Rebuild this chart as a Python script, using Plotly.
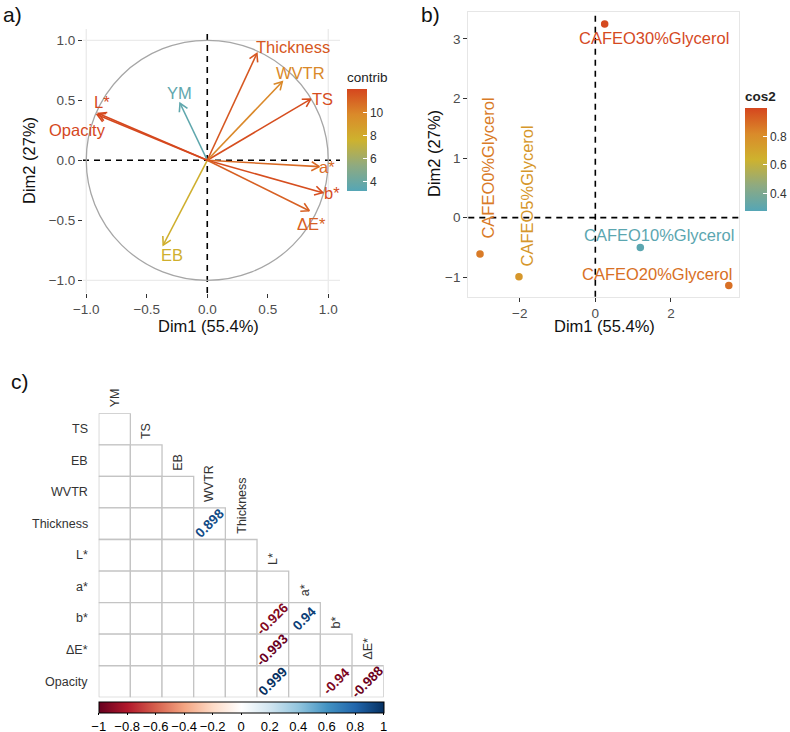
import plotly.graph_objects as go
import numpy as np

# ---------------- DATA ----------------
# Panel a: variables PCA (correlation circle)
var_names = ["YM", "TS", "EB", "WVTR", "Thickness", "L*", "a*", "b*", "ΔE*", "Opacity"]
var_dim1 = [-0.225, 0.855, -0.364, 0.620, 0.410, -0.900, 0.926, 0.954, 0.843, -0.910]
var_dim2 = [0.475, 0.510, -0.706, 0.655, 0.890, 0.390, -0.053, -0.270, -0.420, 0.380]
var_contrib = [3.6, 11.8, 7.8, 9.9, 11.5, 12.0, 10.9, 11.8, 11.2, 12.0]

# Panel b: individuals
ind_names = ["CAFEO0%Glycerol", "CAFEO5%Glycerol", "CAFEO10%Glycerol",
             "CAFEO20%Glycerol", "CAFEO30%Glycerol"]
ind_dim1 = [-3.05, -2.02, 1.19, 3.53, 0.247]
ind_dim2 = [-0.61, -0.99, -0.50, -1.14, 3.25]
ind_cos2 = [0.86, 0.76, 0.30, 0.89, 0.99]

# Panel c: correlation matrix (lower triangle, only significant values shown)
corr_rows = ["TS", "EB", "WVTR", "Thickness", "L*", "a*", "b*", "ΔE*", "Opacity"]
corr_cols = ["YM", "TS", "EB", "WVTR", "Thickness", "L*", "a*", "b*", "ΔE*"]
sig_row = ["Thickness", "b*", "b*", "ΔE*", "Opacity", "Opacity", "Opacity"]
sig_col = ["WVTR", "L*", "a*", "L*", "L*", "b*", "ΔE*"]
sig_r = [0.898, -0.926, 0.94, -0.993, 0.999, -0.94, -0.988]

dim1_title = "Dim1 (55.4%)"
dim2_title = "Dim2 (27%)"
corr_ticks = [-1, -0.8, -0.6, -0.4, -0.2, 0, 0.2, 0.4, 0.6, 0.8, 1]

# ---------------- STYLE ----------------
W, H = 790, 732
FONT = "Liberation Sans, Arial, sans-serif"
grad_scale = [[0.0, "#55A6B6"], [0.25, "#8FAA80"], [0.5, "#CEB22E"],
              [0.75, "#DA8A2A"], [1.0, "#D5461E"]]
rdbu_scale = [[0.0, "#67001F"], [0.1, "#B2182B"], [0.2, "#D6604D"], [0.3, "#F4A582"],
              [0.4, "#FDDBC7"], [0.5, "#FFFFFF"], [0.6, "#D1E5F0"], [0.7, "#92C5DE"],
              [0.8, "#4393C3"], [0.9, "#2166AC"], [1.0, "#053061"]]


def hex2rgb(h):
    h = h.lstrip("#")
    return [int(h[i:i + 2], 16) for i in (0, 2, 4)]


def scale_color(scale, v, vmin, vmax):
    t = min(max((v - vmin) / (vmax - vmin), 0), 1)
    for (p0, c0), (p1, c1) in zip(scale[:-1], scale[1:]):
        if p0 <= t <= p1:
            f = 0 if p1 == p0 else (t - p0) / (p1 - p0)
            a, b = hex2rgb(c0), hex2rgb(c1)
            r = [round(a[i] + (b[i] - a[i]) * f) for i in range(3)]
            return "rgb(%d,%d,%d)" % tuple(r)
    return scale[-1][1]


def px2paper_x(px):
    return px / W


def px2paper_y(py):
    return 1 - py / H


# panel geometry (pixels)
A_L, A_R, A_T, A_B = 83, 340, 29, 293
A_XR = [-1.027, 1.097]
A_YR = [-1.106, 1.094]
B_L, B_R, B_T, B_B = 468.3, 739, 11.7, 296.7
B_XR = [-3.36, 3.80]
B_YR = [-1.326, 3.456]
C_L, C_R, C_T, C_B = 98.7, 383.7, 413.3, 697.3

contrib_min, contrib_max = 3.23, 12.06
cos2_min, cos2_max = 0.28, 1.0

fig = go.Figure()

# ---------------- PANEL A ----------------
kx = (A_R - A_L) / (A_XR[1] - A_XR[0])
ky = (A_B - A_T) / (A_YR[1] - A_YR[0])
head_len = 9.0
label_off = {  # label offsets from arrow tip (data units), anchor
    "YM": (-0.003, 0.083, "center"), "TS": (0.097, 0.0, "center"),
    "EB": (0.076, -0.083, "center"), "WVTR": (0.153, 0.075, "center"),
    "Thickness": (0.30, 0.057, "center"), "L*": (0.034, 0.098, "center"),
    "a*": (0.061, 0.0, "center"), "b*": (0.074, -0.005, "center"),
    "ΔE*": (0.02, -0.11, "center"), "Opacity": (0.092, -0.127, "right"),
}
for name, x, y, c in zip(var_names, var_dim1, var_dim2, var_contrib):
    col = scale_color(grad_scale, c, contrib_min, contrib_max)
    dx, dy = x * kx, y * ky
    n = np.hypot(dx, dy)
    ux, uy = -dx / n, -dy / n
    wings = []
    for ang in (np.pi / 6, -np.pi / 6):
        rx = ux * np.cos(ang) - uy * np.sin(ang)
        ry = ux * np.sin(ang) + uy * np.cos(ang)
        wings.append((x + rx * head_len / kx, y + ry * head_len / ky))
    fig.add_trace(go.Scatter(
        x=[0, x, None, wings[0][0], x, wings[1][0]],
        y=[0, y, None, wings[0][1], y, wings[1][1]],
        mode="lines", line=dict(color=col, width=1.6),
        hoverinfo="skip", xaxis="x", yaxis="y"))
    ox, oy, anc = label_off[name]
    fig.add_annotation(x=x + ox, y=y + oy, xref="x", yref="y", text=name,
                       xanchor=anc, yanchor="middle", showarrow=False,
                       font=dict(family=FONT, size=16.5, color=col))

# colorbar carrier for contrib
fig.add_trace(go.Scatter(
    x=var_dim1, y=var_dim2, mode="markers", xaxis="x", yaxis="y",
    marker=dict(size=0.1, opacity=0, color=var_contrib, colorscale=grad_scale,
                cmin=contrib_min, cmax=contrib_max, showscale=True,
                colorbar=dict(
                    title=dict(text="contrib", side="top",
                               font=dict(family=FONT, size=13.5, color="#222222")),
                    x=px2paper_x(347), xanchor="left",
                    y=px2paper_y(190.7), yanchor="bottom",
                    len=122 / H, lenmode="fraction", thickness=20,
                    thicknessmode="pixels", outlinewidth=0, xpad=0, ypad=0,
                    tickvals=[4, 6, 8, 10], ticks="inside", ticklen=4,
                    tickcolor="white", tickwidth=1,
                    tickfont=dict(family=FONT, size=12, color="#333333"))),
    hoverinfo="skip"))

# ---------------- PANEL B ----------------
fig.add_trace(go.Scatter(
    x=ind_dim1, y=ind_dim2, mode="markers", xaxis="x2", yaxis="y2",
    marker=dict(size=7.5, color=ind_cos2, colorscale=grad_scale, cmin=cos2_min,
                cmax=cos2_max, showscale=True, line=dict(width=0),
                colorbar=dict(
                    title=dict(text="<b>cos2</b>", side="top",
                               font=dict(family=FONT, size=13.5, color="#222222")),
                    x=px2paper_x(745), xanchor="left",
                    y=px2paper_y(210.7), yanchor="bottom",
                    len=122.7 / H, lenmode="fraction", thickness=21.5,
                    thicknessmode="pixels", outlinewidth=0, xpad=0, ypad=0,
                    tickvals=[0.4, 0.6, 0.8], ticks="inside", ticklen=4,
                    tickcolor="white", tickwidth=1,
                    tickfont=dict(family=FONT, size=12, color="#333333"))),
    hoverinfo="skip"))
ind_label = {  # (dx, dy, angle) offsets for labels
    "CAFEO0%Glycerol": (0.21, 1.45, -90), "CAFEO5%Glycerol": (0.21, 1.36, -90),
    "CAFEO10%Glycerol": (0.49, 0.21, 0), "CAFEO20%Glycerol": (-1.91, 0.195, 0),
    "CAFEO30%Glycerol": (1.30, -0.23, 0),
}
for name, x, y, c in zip(ind_names, ind_dim1, ind_dim2, ind_cos2):
    dx, dy, ang = ind_label[name]
    fig.add_annotation(x=x + dx, y=y + dy, xref="x2", yref="y2", text=name,
                       textangle=ang, showarrow=False, xanchor="center", yanchor="middle",
                       font=dict(family=FONT, size=16.5,
                                 color=scale_color(grad_scale, c, cos2_min, cos2_max)))

# ---------------- PANEL C ----------------
n_rows, n_cols = len(corr_rows), len(corr_cols)
for i, rname in enumerate(corr_rows):
    for j in range(i + 1):
        fig.add_shape(type="rect", xref="x3", yref="y3", x0=j - 0.5, x1=j + 0.5,
                      y0=i - 0.5, y1=i + 0.5, line=dict(color="#C4C4C4", width=1.3),
                      fillcolor="white", layer="above")
    fig.add_annotation(x=-0.5, y=i, xref="x3", yref="y3", text=rname, xanchor="right",
                       yanchor="middle", xshift=-9, showarrow=False,
                       font=dict(family=FONT, size=12.5, color="#333333"))
for j, cname in enumerate(corr_cols):
    fig.add_annotation(x=j, y=j - 0.5, xref="x3", yref="y3", text=cname, textangle=-90,
                       xanchor="center", yanchor="bottom", yshift=4, showarrow=False,
                       font=dict(family=FONT, size=12.5, color="#333333"))
sx = [corr_cols.index(c) for c in sig_col]
sy = [corr_rows.index(r) for r in sig_row]
for x, y, r in zip(sx, sy, sig_r):
    fig.add_annotation(x=x, y=y, xref="x3", yref="y3", text="<b>%s</b>" % ("%g" % r),
                       textangle=-45, showarrow=False, xanchor="center", yanchor="middle",
                       font=dict(family=FONT, size=13.5,
                                 color=scale_color(rdbu_scale, r, -1, 1)))
fig.add_trace(go.Scatter(
    x=sx, y=sy, mode="markers", xaxis="x3", yaxis="y3",
    marker=dict(size=1, opacity=0, color=sig_r, colorscale=rdbu_scale, cmin=-1, cmax=1,
                showscale=True,
                colorbar=dict(orientation="h", x=px2paper_x((C_L + C_R) / 2),
                              xanchor="center", y=px2paper_y(701.5), yanchor="top",
                              len=(C_R - C_L) / W, lenmode="fraction", thickness=10.7,
                              thicknessmode="pixels", outlinewidth=1, outlinecolor="black",
                              xpad=0, ypad=0, tickvals=corr_ticks, tickangle=0,
                              ticktext=[("%g" % t).replace("-", "\u2212") for t in corr_ticks],
                              ticks="outside", ticklen=2, tickcolor="black",
                              tickfont=dict(family=FONT, size=13, color="black"))),
    hoverinfo="skip"))

# ---------------- SHAPES (panel a/b decorations) ----------------
for v in (-1, 1):
    fig.add_shape(type="line", xref="x", yref="y domain", x0=v, x1=v, y0=0, y1=1,
                  line=dict(color="#EBEBEB", width=1.3), layer="below")
    fig.add_shape(type="line", xref="x domain", yref="y", x0=0, x1=1, y0=v, y1=v,
                  line=dict(color="#EBEBEB", width=1.3), layer="below")
fig.add_shape(type="circle", xref="x", yref="y", x0=-1, x1=1, y0=-1, y1=1,
              line=dict(color="#A6A6A6", width=1.3), layer="below")
for xa, ya in (("x", "y"), ("x2", "y2")):
    fig.add_shape(type="line", xref=xa, yref=ya + " domain", x0=0, x1=0, y0=0, y1=1,
                  line=dict(color="black", width=1.6, dash="6px,5px"), layer="below")
    fig.add_shape(type="line", xref=xa + " domain", yref=ya, x0=0, x1=1, y0=0, y1=0,
                  line=dict(color="black", width=1.6, dash="6px,5px"), layer="below")

# ---------------- TITLES ----------------
def txt(x, y, s, size, angle=0, color="#111111"):
    fig.add_annotation(x=px2paper_x(x), y=px2paper_y(y), xref="paper", yref="paper",
                       text=s, textangle=angle, showarrow=False,
                       xanchor="center", yanchor="middle",
                       font=dict(family=FONT, size=size, color=color))

txt(12, 14, "a)", 21)
txt(430, 14, "b)", 21)
txt(20, 381, "c)", 21)
txt(208, 326, dim1_title, 16.5)
txt(29, 161, dim2_title, 16.5, -90)
txt(604, 326, dim1_title, 16.5)
txt(434, 154, dim2_title, 16.5, -90)

tick_common = dict(ticks="outside", ticklen=4, tickwidth=1.1, tickcolor="#333333",
                   showgrid=False, zeroline=False,
                   tickfont=dict(family=FONT, size=13.5, color="#4D4D4D"))
fig.update_layout(
    width=W, height=H, margin=dict(l=0, r=0, t=0, b=0, autoexpand=False),
    plot_bgcolor="white", paper_bgcolor="white", showlegend=False,
    xaxis=dict(domain=[px2paper_x(A_L), px2paper_x(A_R)], range=A_XR, anchor="y",
               tickvals=[-1, -0.5, 0, 0.5, 1], tickformat=".1f", **tick_common),
    yaxis=dict(domain=[px2paper_y(A_B), px2paper_y(A_T)], range=A_YR, anchor="x",
               tickvals=[-1, -0.5, 0, 0.5, 1], tickformat=".1f", **tick_common),
    xaxis2=dict(domain=[px2paper_x(B_L), px2paper_x(B_R)], range=B_XR, anchor="y2",
                tickvals=[-2, 0, 2], showline=True, mirror=True, linecolor="#E6E6E6",
                linewidth=1.2, **tick_common),
    yaxis2=dict(domain=[px2paper_y(B_B), px2paper_y(B_T)], range=B_YR, anchor="x2",
                tickvals=[-1, 0, 1, 2, 3], showline=True, mirror=True,
                linecolor="#E6E6E6", linewidth=1.2, **tick_common),
    xaxis3=dict(domain=[px2paper_x(C_L), px2paper_x(C_R)], range=[-0.5, n_cols - 0.5],
                anchor="y3", visible=False),
    yaxis3=dict(domain=[px2paper_y(C_B), px2paper_y(C_T)], range=[n_rows - 0.5, -0.5],
                anchor="x3", visible=False),
)

fig.write_html("out.html", config={"displayModeBar": False},
               post_script="document.body.style.margin='0px';"
                           "document.body.style.overflow='hidden';")
